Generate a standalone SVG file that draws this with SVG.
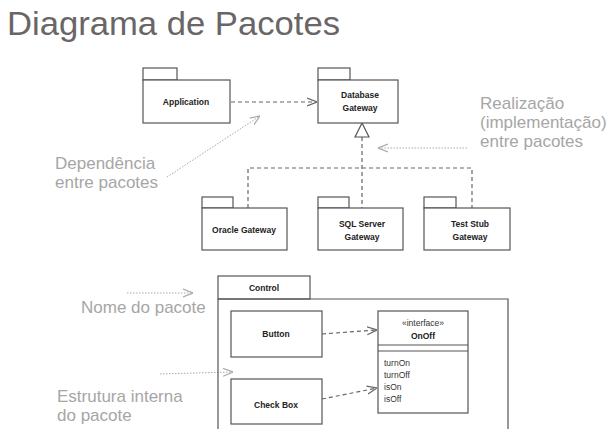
<svg xmlns="http://www.w3.org/2000/svg" width="612" height="429" viewBox="0 0 612 429">
<defs>
<style>
.title{font-family:"Liberation Sans",Arial,sans-serif;font-size:33px;fill:#6a6566}
.note{font-family:"Liberation Sans",Arial,sans-serif;font-size:17px;fill:#a6a6a6}
.box{fill:#fff;stroke:#555;stroke-width:1.2}
.lbl{font-family:"Liberation Sans",Arial,sans-serif;font-size:8.5px;font-weight:bold;fill:#222;text-anchor:middle}
.op{font-family:"Liberation Sans",Arial,sans-serif;font-size:8.5px;fill:#333}
.dash{fill:none;stroke:#666;stroke-width:1.2;stroke-dasharray:4 3}
.dot{fill:none;stroke:#aaa;stroke-width:1;stroke-dasharray:1.5 1.5}
</style>
<marker id="open" viewBox="0 0 10 10" refX="10" refY="5" markerWidth="10" markerHeight="10" markerUnits="userSpaceOnUse" orient="auto">
<path d="M0,1 L10,5 L0,9" fill="none" stroke="#666" stroke-width="1.2"/>
</marker>
<marker id="grey" viewBox="0 0 10 10" refX="10" refY="5" markerWidth="10" markerHeight="10" markerUnits="userSpaceOnUse" orient="auto">
<path d="M0,1 L10,5 L0,9" fill="none" stroke="#aaa" stroke-width="1.2"/>
</marker>
</defs>
<rect width="612" height="429" fill="#fff"/>
<text class="title" x="7" y="35" textLength="333" lengthAdjust="spacingAndGlyphs">Diagrama de Pacotes</text>

<g id="connectors">
<line class="dash" x1="231" y1="102" x2="317" y2="102" marker-end="url(#open)"/>
<path class="dash" d="M362,137 V208 M248,208 V168 H472 V208"/>
<path d="M362,123 L369,137 L355,137 Z" fill="#fff" stroke="#555" stroke-width="1.2"/>
<line class="dash" x1="322" y1="334" x2="377" y2="330" marker-end="url(#open)"/>
<line class="dash" x1="322" y1="399" x2="377" y2="388" marker-end="url(#open)"/>
<line class="dot" x1="167" y1="177" x2="260" y2="116" marker-end="url(#grey)"/>
<line class="dot" x1="467" y1="148" x2="378" y2="148" marker-end="url(#grey)"/>
<line class="dot" x1="127" y1="293" x2="193" y2="293" marker-end="url(#grey)"/>
<line class="dot" x1="160" y1="374" x2="233" y2="372" marker-end="url(#grey)"/>
</g>

<g id="application">
<rect class="box" x="143" y="68" width="34" height="12"/>
<rect class="box" x="143" y="80" width="87" height="43"/>
<text class="lbl" x="186" y="105">Application</text>
</g>
<g id="database-gateway">
<rect class="box" x="318" y="68" width="32" height="12"/>
<rect class="box" x="318" y="80" width="80" height="43"/>
<text class="lbl" x="360" y="98">Database</text>
<text class="lbl" x="360" y="111">Gateway</text>
</g>
<g id="oracle-gateway">
<rect class="box" x="202" y="197" width="31" height="11"/>
<rect class="box" x="202" y="208" width="85" height="42"/>
<text class="lbl" x="244" y="233">Oracle Gateway</text>
</g>
<g id="sql-server-gateway">
<rect class="box" x="318" y="197" width="31" height="11"/>
<rect class="box" x="318" y="208" width="85" height="42"/>
<text class="lbl" x="362" y="227">SQL Server</text>
<text class="lbl" x="362" y="240">Gateway</text>
</g>
<g id="test-stub-gateway">
<rect class="box" x="424" y="197" width="32" height="11"/>
<rect class="box" x="424" y="208" width="86" height="42"/>
<text class="lbl" x="470" y="227">Test Stub</text>
<text class="lbl" x="470" y="240">Gateway</text>
</g>

<g id="control">
<rect class="box" x="218" y="276" width="92" height="23"/>
<path d="M218,299 H508 V429 M218,299 V429" fill="none" stroke="#555" stroke-width="1.2"/>
<text class="lbl" x="264" y="291">Control</text>
</g>
<g id="button">
<rect class="box" x="231" y="311" width="91" height="46"/>
<text class="lbl" x="276" y="337">Button</text>
</g>
<g id="check-box">
<rect class="box" x="231" y="379" width="91" height="45"/>
<text class="lbl" x="276" y="408">Check Box</text>
</g>
<g id="onoff">
<rect class="box" x="378" y="311" width="90" height="102"/>
<line x1="378" y1="345" x2="468" y2="345" stroke="#555" stroke-width="1.2"/>
<line x1="378" y1="351" x2="468" y2="351" stroke="#555" stroke-width="1.2"/>
<text class="op" x="423" y="326" text-anchor="middle" font-size="7.5">«interface»</text>
<text class="lbl" x="423" y="339">OnOff</text>
<text class="op" x="384" y="366">turnOn</text>
<text class="op" x="384" y="378">turnOff</text>
<text class="op" x="384" y="390">isOn</text>
<text class="op" x="384" y="402">isOff</text>
</g>

<text class="note" x="480" y="109">Realização</text>
<text class="note" x="480" y="128">(implementação)</text>
<text class="note" x="480" y="147">entre pacotes</text>
<text class="note" x="55" y="169">Dependência</text>
<text class="note" x="55" y="188">entre pacotes</text>
<text class="note" x="81" y="313">Nome do pacote</text>
<text class="note" x="57" y="402">Estrutura interna</text>
<text class="note" x="57" y="421">do pacote</text>
</svg>
